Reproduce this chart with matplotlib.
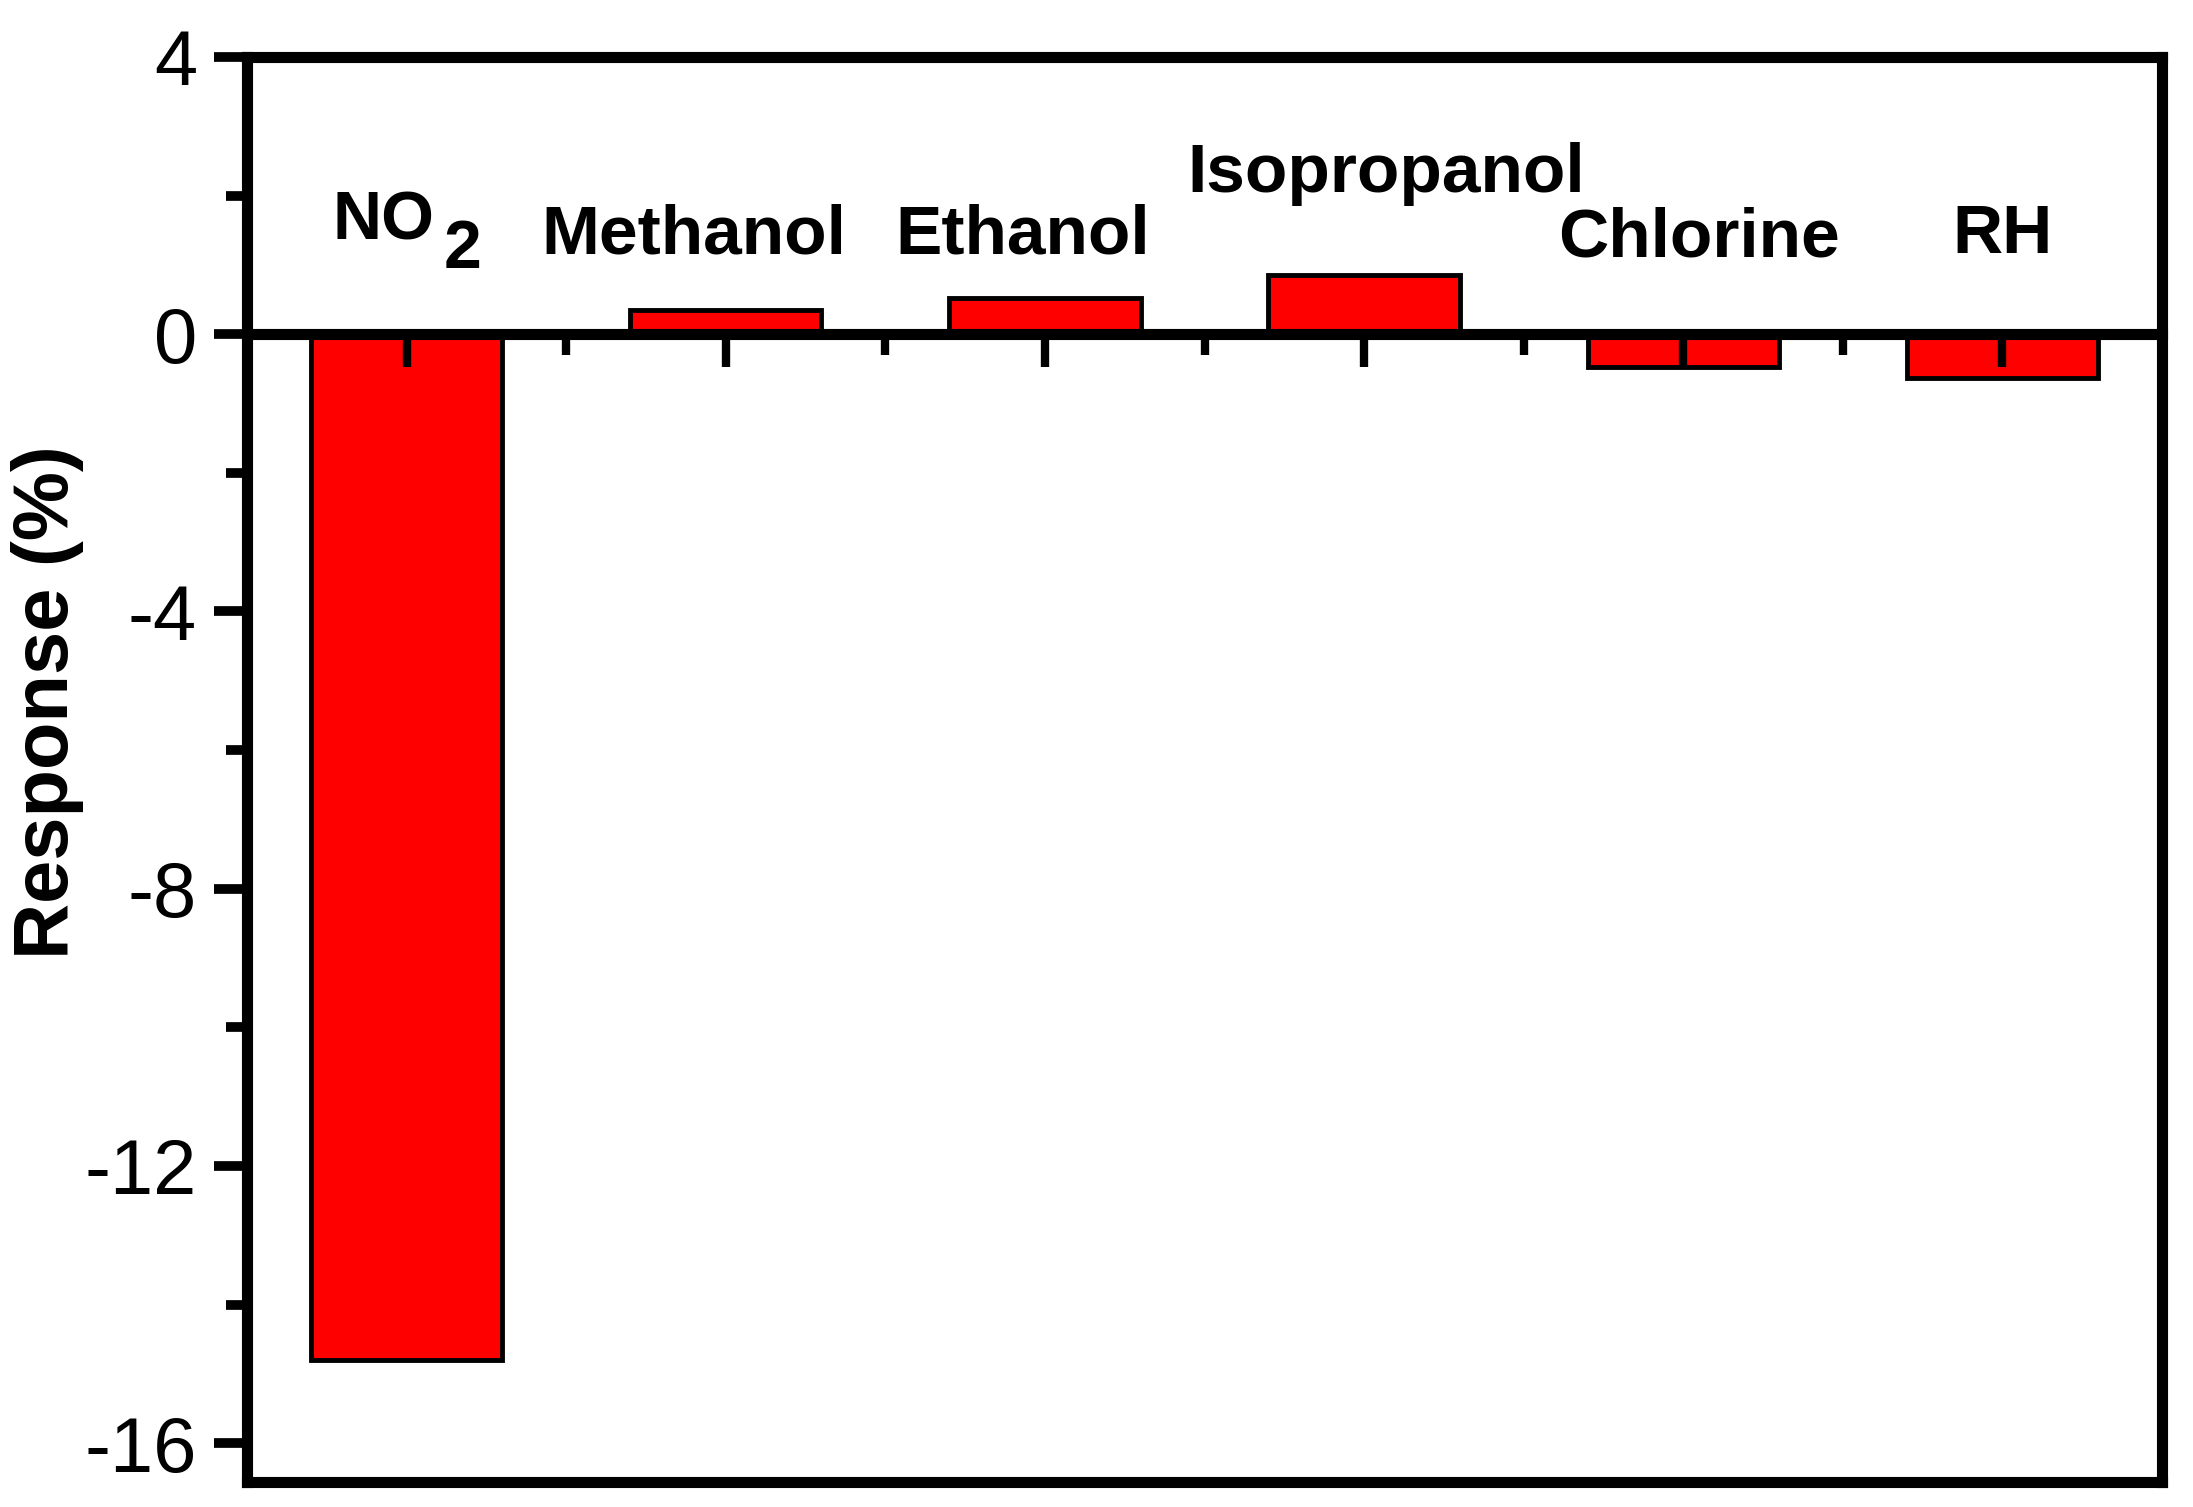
import matplotlib
matplotlib.use("Agg")
import matplotlib.pyplot as plt
from matplotlib.ticker import FixedLocator

plt.rcParams['font.family'] = ['Liberation Sans', 'DejaVu Sans']
plt.rcParams['axes.unicode_minus'] = False

# --- data ---
gases = ['NO2', 'Methanol', 'Ethanol', 'Isopropanol', 'Chlorine', 'RH']
response = [-14.8, 0.35, 0.52, 0.86, -0.47, -0.63]
yticks = [4, 0, -4, -8, -12, -16]

# label placement (data coords, baseline)
label_x = [None, 1.90, 2.93, 4.07, 5.05, 6.00]
label_y = [None, 1.17, 1.17, 2.05, 1.12, 1.17]

pos = list(range(1, len(gases) + 1))

fig = plt.figure(figsize=(21.93, 15.07), dpi=100)
ax = fig.add_axes([0.1126, 0.0166, 0.8733, 0.9456])

ax.bar(pos, response, width=0.6, color='#ff0000', edgecolor='black',
       linewidth=3.5, zorder=1)

ax.set_xlim(0.5, 6.5)
ax.set_ylim(-16.56, 4)

# axis line through zero, frame drawn around
for s in ['top', 'left', 'right', 'bottom']:
    ax.spines[s].set_linewidth(8)
ax.spines['bottom'].set_position(('data', 0))
ax.plot([0, 1], [0, 0], transform=ax.transAxes, color='black', lw=8,
        clip_on=False, solid_capstyle='projecting', zorder=3)

ax.yaxis.set_major_locator(FixedLocator(yticks))
ax.yaxis.set_minor_locator(FixedLocator([2, -2, -6, -10, -14]))
ax.xaxis.set_major_locator(FixedLocator(pos))
ax.xaxis.set_minor_locator(FixedLocator([p + 0.5 for p in pos[:-1]]))
ax.set_yticklabels([str(t) for t in yticks])

ax.tick_params(axis='y', which='major', direction='out', length=24, width=7,
               labelsize=56, pad=12)
ax.tick_params(axis='y', which='minor', direction='out', length=15, width=7)
ax.tick_params(axis='x', which='major', direction='out', length=24, width=6,
               labelbottom=False)
ax.tick_params(axis='x', which='minor', direction='out', length=15, width=6)

ax.set_ylabel('Response (%)', fontsize=56, fontweight='bold')
ax.yaxis.set_label_coords(-0.085, 0.547)

# category labels inside the plot
ax.text(1.089, 1.37, 'NO', ha='right', va='baseline', fontsize=49,
        fontweight='bold')
ax.text(1.117, 0.95, '2', ha='left', va='baseline', fontsize=49,
        fontweight='bold')
for i in range(1, len(gases)):
    ax.text(label_x[i], label_y[i], gases[i], ha='center', va='baseline',
            fontsize=50, fontweight='bold')

fig.savefig('out.png', dpi=100)
